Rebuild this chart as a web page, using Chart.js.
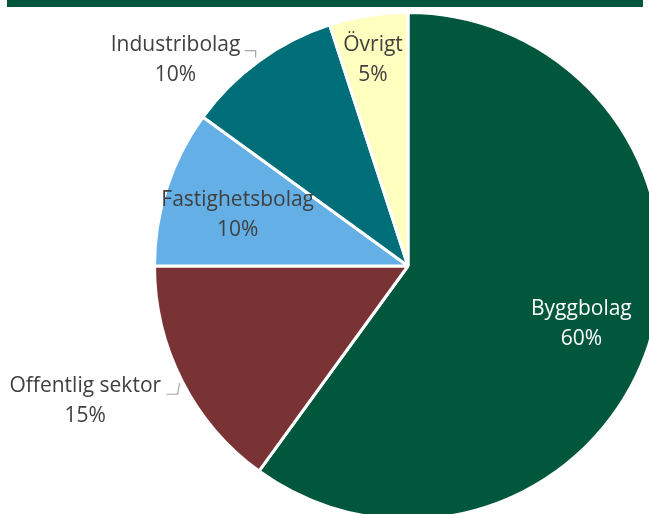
<!DOCTYPE html>
<html>
<head>
<meta charset="utf-8">
<script src="https://cdn.jsdelivr.net/npm/chart.js@4/dist/chart.umd.min.js"></script>
<style>
  html, body { margin: 0; padding: 0; background: #ffffff; overflow: hidden; width: 649px; height: 514px; }
  #topbar { position: absolute; left: 7px; top: 0; width: 636px; height: 7px; background: #00573B; }
  #wrap { position: absolute; left: 0; top: 0; width: 816px; height: 532px; }
</style>
</head>
<body>
<div id="topbar"></div>
<div id="wrap"><canvas id="c" width="816" height="532"></canvas></div>
<script>
const categories = ["Byggbolag", "Offentlig sektor", "Fastighetsbolag", "Industribolag", "Övrigt"];
const shares = [60, 15, 10, 10, 5];
const percentLabels = ["60%", "15%", "10%", "10%", "5%"];
const sliceColors = ["#00573B", "#7A3334", "#64AFE6", "#006E78", "#FFFFBF"];
const labelColors = ["#FFFFFF", "#404040", "#404040", "#404040", "#404040"];

// label placement relative to pie centre, in fractions of the radius (x, y)
const labelPos = [[0.684, 0.225], [-1.273, 0.530], [-0.672, -0.206], [-0.917, -0.818], [-0.138, -0.818]];
// leader lines (fractions of radius) for the outside labels
const leaders = {
  1: [[-0.953, 0.506], [-0.909, 0.506], [-0.901, 0.462]],
  3: [[-0.644, -0.850], [-0.601, -0.850], [-0.601, -0.822]]
};

const labelPlugin = {
  id: 'sliceLabels',
  afterDatasetsDraw(chart) {
    const ctx = chart.ctx;
    const meta = chart.getDatasetMeta(0);
    ctx.save();
    meta.data.forEach((arc, i) => {
      const cx = arc.x, cy = arc.y, r = arc.outerRadius;
      if (leaders[i]) {
        ctx.strokeStyle = "#A6A6A6";
        ctx.lineWidth = 1.2;
        ctx.beginPath();
        leaders[i].forEach((p, k) => {
          const px = cx + p[0] * r, py = cy + p[1] * r;
          if (k === 0) ctx.moveTo(px, py); else ctx.lineTo(px, py);
        });
        ctx.stroke();
      }
      const lx = cx + labelPos[i][0] * r;
      const ly = cy + labelPos[i][1] * r;
      ctx.fillStyle = labelColors[i];
      ctx.font = "21px 'Open Sans', Lato, sans-serif";
      ctx.textAlign = "center";
      ctx.textBaseline = "middle";
      ctx.fillText(categories[i], lx, ly - 14);
      ctx.fillText(percentLabels[i], lx, ly + 16);
    });
    ctx.restore();
  }
};

new Chart(document.getElementById('c'), {
  type: 'pie',
  data: {
    labels: categories,
    datasets: [{
      data: shares,
      backgroundColor: sliceColors,
      borderColor: "#FFFFFF",
      borderWidth: 3,
      hoverOffset: 0
    }]
  },
  options: {
    responsive: false,
    animation: false,
    devicePixelRatio: 1,
    layout: { padding: { top: 11, bottom: 11, left: 0, right: 0 } },
    plugins: { legend: { display: false }, tooltip: { enabled: false } },
    events: []
  },
  plugins: [labelPlugin]
});
</script>
</body>
</html>
